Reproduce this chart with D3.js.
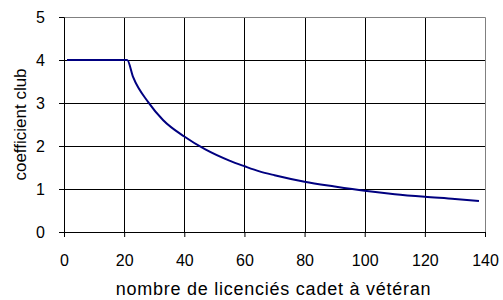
<!DOCTYPE html>
<html>
<head>
<meta charset="utf-8">
<script src="https://cdn.jsdelivr.net/npm/d3@7"></script>
<style>
  body { margin: 0; background: #fff; }
  svg { display: block; font-family: 'Liberation Sans', Arial, sans-serif; }
</style>
</head>
<body>
<div id="chart"></div>
<script>
// licencies (x) and coefficient (y)
const licencies = [1, 21, 23, 28, 33, 40, 47, 55, 60, 65, 70, 80, 90, 100, 110, 120, 130, 138]
const coefficient = [4, 4, 3.6, 3.02, 2.6, 2.22, 1.92, 1.66, 1.53, 1.41, 1.32, 1.17, 1.06, 0.96, 0.88, 0.82, 0.77, 0.72]
const xTicks = [0, 20, 40, 60, 80, 100, 120, 140]
const yTicks = [0, 1, 2, 3, 4, 5]

const W = 503, H = 300
const margin = ({ top: 17, right: 18, bottom: 68, left: 64 })
const width = W - margin.left - margin.right
const height = H - margin.top - margin.bottom

const data = licencies.map((x, i) => ({ x: x, y: coefficient[i] }))

const svg = d3.select('#chart')
  .append('svg')
  .attr('width', W)
  .attr('height', H)

const g = svg.append('g')
  .attr('transform', `translate(${margin.left},${margin.top})`)

const xScale = d3.scaleLinear().domain([0, 140]).range([0, width])
const yScale = d3.scaleLinear().domain([0, 5]).range([height, 0])

// grid
g.append('g')
  .selectAll('line')
  .data(xTicks.slice(1, -1))
  .join('line')
  .attr('x1', d => Math.round(xScale(d)) + 0.5)
  .attr('x2', d => Math.round(xScale(d)) + 0.5)
  .attr('y1', 0)
  .attr('y2', height)
  .attr('stroke', '#000')

g.append('g')
  .selectAll('line')
  .data(yTicks.slice(1, -1))
  .join('line')
  .attr('x1', 0)
  .attr('x2', width)
  .attr('y1', d => Math.round(yScale(d)) + 0.5)
  .attr('y2', d => Math.round(yScale(d)) + 0.5)
  .attr('stroke', '#000')

// plot frame top / right
g.append('path')
  .attr('d', `M0.5,0.5H${width + 0.5}V${height}`)
  .attr('fill', 'none')
  .attr('stroke', '#808080')

const xAxis = d3.axisBottom(xScale)
  .tickValues(xTicks)
  .tickSize(5)
  .tickPadding(18)
  .tickFormat(d3.format('d'))

const yAxis = d3.axisLeft(yScale)
  .tickValues(yTicks)
  .tickSize(5)
  .tickPadding(14)
  .tickFormat(d3.format('d'))

g.append('g')
  .attr('class', 'axis x-axis')
  .attr('transform', `translate(0,${height})`)
  .call(xAxis)
  .call(a => a.selectAll('text').attr('font-size', 16).attr('fill', '#000'))
  .call(a => a.attr('font-family', null))
  .call(a => a.selectAll('line, path').attr('stroke', '#000'))

g.append('g')
  .attr('class', 'axis y-axis')
  .call(yAxis)
  .call(a => a.selectAll('text').attr('font-size', 16).attr('fill', '#000'))
  .call(a => a.attr('font-family', null))
  .call(a => a.selectAll('line, path').attr('stroke', '#000'))

// curve
const line = d3.line()
  .curve(d3.curveMonotoneX)
  .x(d => xScale(d.x))
  .y(d => yScale(d.y))

g.append('path')
  .datum(data)
  .attr('fill', 'none')
  .attr('stroke', '#000080')
  .attr('stroke-width', 2)
  .attr('stroke-linejoin', 'round')
  .attr('d', line)

// titles
svg.append('text')
  .attr('x', margin.left + width / 2 - 1)
  .attr('y', 295)
  .attr('text-anchor', 'middle')
  .attr('font-size', 18)
  .attr('letter-spacing', 0.75)
  .text('nombre de licenciés cadet à vétéran')

svg.append('text')
  .attr('transform', `translate(26,${margin.top + height / 2}) rotate(-90)`)
  .attr('text-anchor', 'middle')
  .attr('font-size', 17)
  .text('coefficient club')
</script>
</body>
</html>
